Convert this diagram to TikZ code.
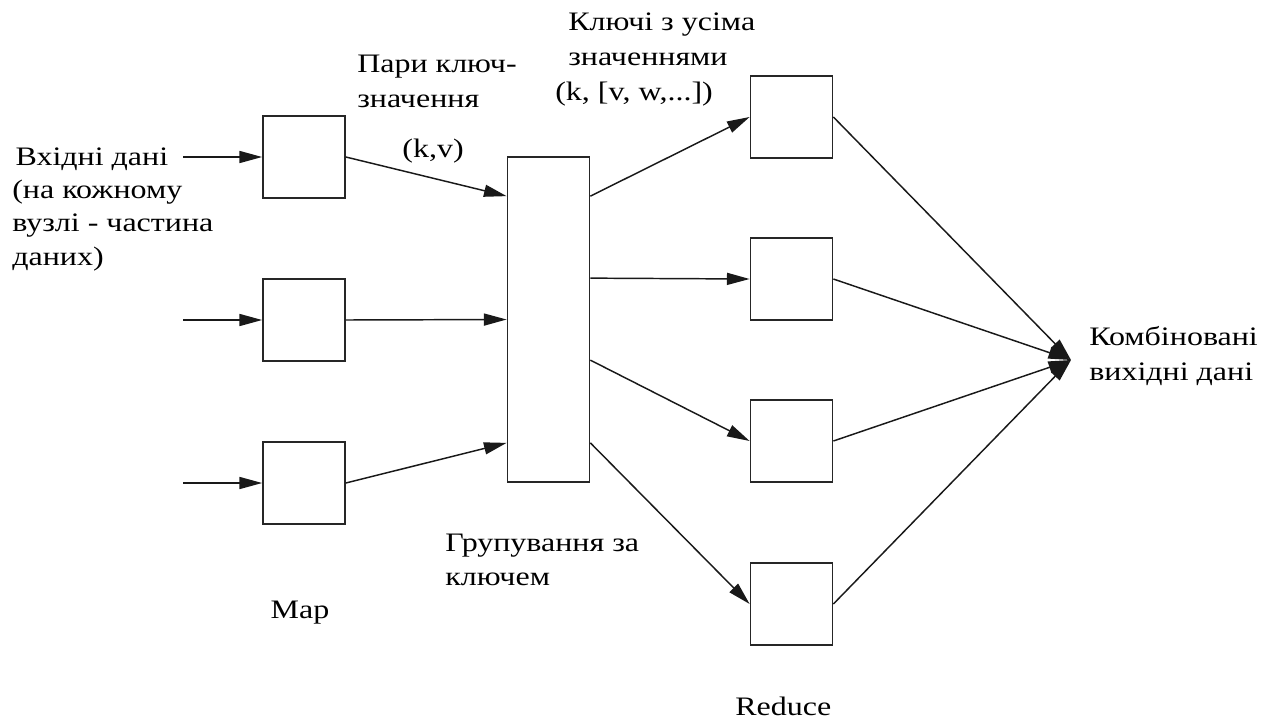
\documentclass[tikz,border=0pt]{standalone}
\usepackage{fontspec}
\setmainfont{Liberation Serif}[FakeStretch=1.2]
\usetikzlibrary{arrows.meta,calc}
\begin{document}
\begin{tikzpicture}[x=0.75pt,y=-0.75pt,
  box/.style={draw=black!85,line width=1.3pt,shape=rectangle,
    minimum width=61.5pt,minimum height=61.5pt,inner sep=0pt},
  flow/.style={draw=black!90,line width=1.1pt,
    -{Triangle[length=17pt,width=9pt]}},
  lbl/.style={font=\fontsize{20pt}{26pt}\selectfont,inner sep=0pt,align=left},
  lbltight/.style={font=\fontsize{20pt}{25pt}\selectfont,inner sep=0pt,align=left}]
\useasboundingbox (0,0) rectangle (1275,722);

% Map boxes
\node[box] (M1) at (304,157) {};
\node[box] (M2) at (304,320) {};
\node[box] (M3) at (304,483) {};

% grouping box
\node[box,minimum height=243.75pt] (G) at (548.5,319.5) {};

% Reduce boxes
\node[box] (R1) at (791.5,117) {};
\node[box] (R2) at (791.5,279) {};
\node[box] (R3) at (791.5,441) {};
\node[box] (R4) at (791.5,604) {};

% input stubs and the joint output point
\coordinate (I1) at (183,157);
\coordinate (I2) at (183,320);
\coordinate (I3) at (183,483);
\coordinate (out) at (1071,360);

% attachment points on the grouping box
\coordinate (Ga) at ($(G.north west)+(0,40)$);
\coordinate (Gb) at (G.west);
\coordinate (Gc) at ($(G.south west)+(0,-40)$);
\coordinate (Ha) at ($(G.north east)+(0,40)$);
\coordinate (Hb) at ($(G.north east)+(0,122)$);
\coordinate (Hc) at ($(G.north east)+(0,204)$);
\coordinate (Hd) at ($(G.south east)+(0,-40)$);

% inputs to Map
\draw[flow] (I1) -- (M1.west);
\draw[flow] (I2) -- (M2.west);
\draw[flow] (I3) -- (M3.west);

% Map to grouping
\draw[flow] (M1.east) -- (Ga);
\draw[flow] (M2.east) -- (Gb);
\draw[flow] (M3.east) -- (Gc);

% grouping to Reduce
\draw[flow] (Ha) -- (R1.west);
\draw[flow] (Hb) -- (R2.west);
\draw[flow] (Hc) -- (R3.west);
\draw[flow] (Hd) -- (R4.west);

% Reduce to combined output
\draw[flow] (R1.east) -- (out);
\draw[flow] (R2.east) -- (out);
\draw[flow] (R3.east) -- (out);
\draw[flow] (R4.east) -- (out);

% labels (multi-line nodes sit on the baseline of their last line)
\node[lbltight,anchor=base west] (tin) at (12,265)
  {\hspace*{2.5pt}Вхідні дані\\(на кожному\\вузлі - частина\\даних)};
\node[lbl,anchor=base west] (tpairs) at (357,107) {Пари ключ-\\значення};
\node[lbl,anchor=base] (tkv) at (433,157) {(k,v)};
\node[lbl,anchor=base west] (tkeys) at (568,65) {Ключі з усіма\\значеннями};
\node[lbl,anchor=base west] (tkvs) at (555,100) {(k, [v, w,...])};
\node[lbl,anchor=base west] (tcomb) at (1089,380) {Комбіновані\\вихідні дані};
\node[lbltight,anchor=base west] (tgroup) at (445,585) {Групування за\\ключем};
\node[lbl,anchor=base] (tmap) at (300,618) {Map};
\node[lbl,anchor=base west] (tred) at (735,715) {Reduce};
\end{tikzpicture}
\end{document}
